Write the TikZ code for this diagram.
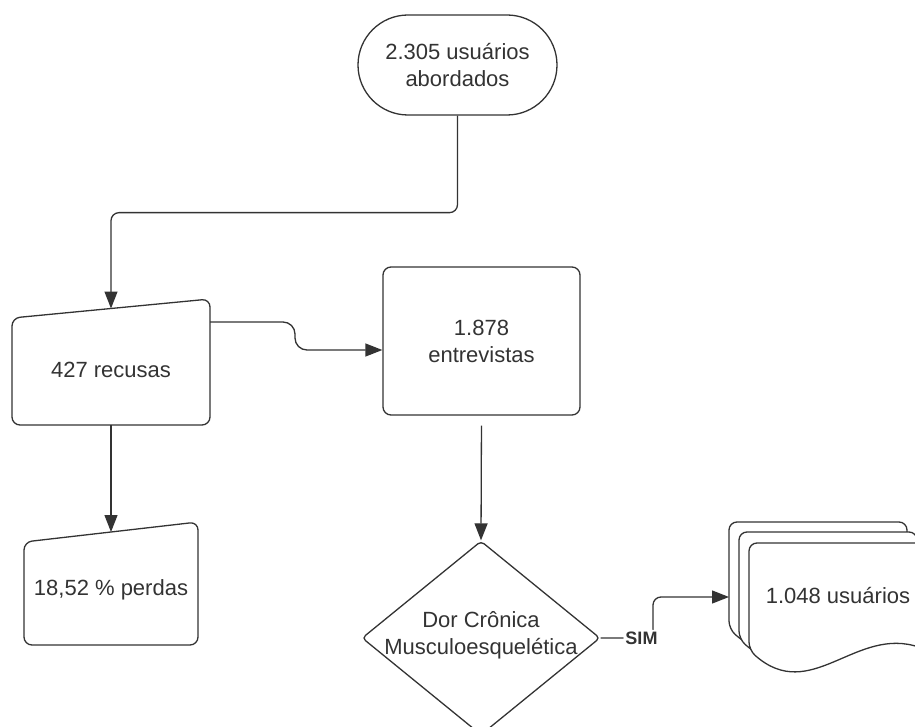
\documentclass[tikz,border=0pt]{standalone}
\usepackage{fontspec}
\setmainfont{Liberation Sans}
\usetikzlibrary{shapes, arrows.meta, positioning, calc}
\definecolor{linha}{HTML}{333333}

\begin{document}
\begin{tikzpicture}[x=0.5pt, y=-0.5pt, >={Triangle[length=8.5pt, width=6.5pt]}, line width=0.65pt, font=\fontsize{11}{13.5}\selectfont]

\tikzstyle{terminal} = [rectangle, rounded corners=25pt, minimum width=99.5pt, minimum height=50pt, draw=linha, text=linha, align=center]
\tikzstyle{processo} = [rectangle, rounded corners=4pt, minimum width=98.5pt, minimum height=74pt, draw=linha, text=linha, align=center]
\tikzstyle{decisao} = [diamond, rounded corners=2pt, minimum width=119pt, minimum height=97pt, inner sep=0pt, draw=linha]
\tikzstyle{entrada} = [draw=linha, rounded corners=4pt]
\tikzstyle{documento} = [draw=linha, fill=white, rounded corners=4pt]
\tikzstyle{rotulo} = [text=linha, align=center]
\tikzstyle{resposta} = [fill=white, inner sep=1pt, text=linha, font=\bfseries\fontsize{9}{11}\selectfont]
\tikzstyle{flow} = [->, draw=linha, rounded corners=4pt]

\clip (0,0) rectangle (915,727);

\node (abordados) [terminal] at (457.5,65) {2.305 usuários\\abordados};
\node (entrevistas) [processo] at (481.5,341) {1.878\\entrevistas};
\node (dor) [decisao] at (481,638) {};
\node (dortexto) [rotulo] at (481,635) {Dor Crônica\\Musculoesquelética};

% entradas manuais
\draw[entrada] (12,370) -- (12,318) -- (210,299) -- (210,425) -- (12,425) -- cycle;
\node (recusas) [rotulo] at (111,370) {427 recusas};
\draw[entrada] (24,590) -- (24,542) -- (198,522) -- (198,645) -- (24,645) -- cycle;
\node (perdas) [rotulo] at (111,590) {18,52 \% perdas};

\coordinate (recusasTopo) at (111,308.5);
\coordinate (recusasBase) at (111,425);
\coordinate (recusasDir) at (210,322);
\coordinate (perdasTopo) at (111,532);

% pilha de documentos
\foreach \dx/\dy in {729/522, 739/532, 749/543}
  \draw[documento] (\dx,\dy+60) -- (\dx,\dy) -- (\dx+178,\dy) -- (\dx+178,\dy+107) .. controls (\dx+107,\dy+82) and (\dx+62,\dy+162) .. (\dx,\dy+107) -- cycle;
\node (usuarios) [rotulo] at (838,596) {1.048 usuários};
\coordinate (pilha) at (729,597);

% conectores
\draw[flow] (abordados.south) -- ++(0,97) -| (recusasTopo);
\draw[flow] (recusasBase) -- (perdasTopo);
\draw[flow, rounded corners=6pt] (recusasDir) -- ++(85,0) |- ([yshift=-4.5pt]entrevistas.west);
\draw[flow, shorten <=5pt] (entrevistas.south) -- (dor.north);
\draw[flow] (dor.east) -| node (sim) [resposta, pos=0.39] {SIM} (653,597) -- (pilha);

\end{tikzpicture}
\end{document}
